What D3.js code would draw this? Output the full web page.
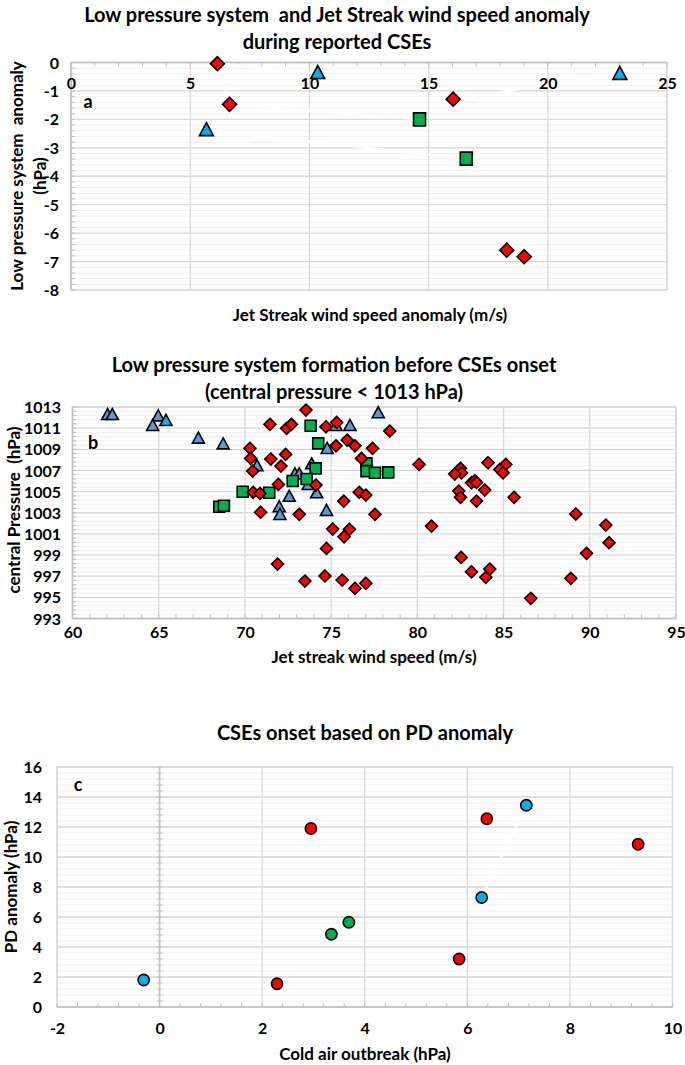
<!DOCTYPE html>
<html>
<head>
<meta charset="utf-8">
<style>
body{margin:0;background:#fff;}
svg text{font-family:Lato,"Open Sans",sans-serif;font-weight:bold;fill:#000;white-space:pre;}
</style>
</head>
<body>
<svg id="chart" width="685" height="1065"></svg>
<script src="https://cdn.jsdelivr.net/npm/d3@7"></script>
<script>
// ---- panel a : anomaly ----
var aTriangles = [[10.35,-0.38],[23.02,-0.41],[5.68,-2.39]];
var aDiamonds  = [[6.14,-0.04],[6.65,-1.47],[16.03,-1.29],[18.28,-6.6],[19.01,-6.83]];
var aSquares   = [[14.62,-2.0],[16.58,-3.38]];
// faint white connectors left over from the original series lines
var aLinks = [[6.14,-0.04,10.35,-0.38],[6.14,-0.04,6.65,-1.47],[16.03,-1.29,23.02,-0.41],
              [6.65,-1.47,14.62,-2.0],[5.68,-2.39,16.58,-3.38]];
var aXTicks = [0,5,10,15,20,25];
var aYTicks = [0,-1,-2,-3,-4,-5,-6,-7,-8];

// ---- panel b : central pressure ----
var bTriangles = [[62.04,1012.23],[62.31,1012.23],[64.97,1012.1],[64.65,1011.2],[67.3,1010.0],
  [68.74,1009.46],[70.7,1007.4],[72.9,1006.63],[73.15,1006.63],[73.87,1007.57],[73.67,1005.62],
  [74.16,1004.83],[72.57,1004.5],[71.99,1003.51],[72.03,1002.78],[74.73,1003.16],[74.77,1009.02],
  [75.28,1011.2],[76.09,1011.2],[77.73,1012.4]];
var bTrianglesCyan = [[65.42,1011.67]];
var bSquares = [[69.87,1004.98],[68.51,1003.57],[68.78,1003.66],[73.81,1011.23],[74.25,1009.56],
  [77.05,1007.67],[77.05,1006.94],[77.54,1006.78],[78.31,1006.82],[74.1,1007.2],[73.58,1006.19],
  [72.77,1006.0],[71.41,1004.89]];
var bDiamonds = [[73.54,1012.71],[71.45,1011.36],[72.42,1010.98],[72.7,1011.36],[74.7,1011.13],
  [75.32,1011.54],[78.4,1010.72],[75.28,1009.33],[75.93,1009.87],[76.38,1009.33],[77.4,1009.09],
  [76.76,1008.14],[80.1,1007.57],[70.29,1009.09],[70.33,1008.14],[71.5,1008.08],[72.36,1008.52],
  [72.09,1007.41],[70.45,1006.94],[71.94,1005.68],[74.12,1005.62],[70.48,1004.93],[70.87,1004.83],
  [76.63,1004.93],[77.01,1004.67],[75.73,1004.1],[70.91,1003.05],[73.15,1002.85],[77.54,1002.85],
  [80.82,1001.74],[75.09,1001.46],[76.06,1001.43],[75.75,1000.73],[74.73,999.63],[71.89,998.15],
  [73.48,996.54],[74.64,997.02],[75.64,996.64],[76.38,995.85],[77.01,996.33],
  [84.1,1007.73],[85.13,1007.57],[84.78,1007.1],[84.97,1006.78],[82.5,1007.2],[82.56,1006.78],
  [82.17,1006.66],[83.14,1005.84],[83.33,1006.03],[83.43,1005.87],[82.4,1005.05],[82.5,1004.46],
  [83.91,1005.15],[83.43,1004.1],[85.61,1004.46],[89.19,1002.88],[90.93,1001.84],[91.12,1000.17],
  [89.81,999.16],[82.54,998.78],[83.14,997.42],[84.2,997.68],[83.97,996.89],[88.9,996.8],[86.58,994.91]];
var bXTicks = [60,65,70,75,80,85,90,95];
var bYTicks = [993,995,997,999,1001,1003,1005,1007,1009,1011,1013];

// ---- panel c : PD anomaly ----
var cRed   = [[2.95,11.9],[6.38,12.55],[9.33,10.85],[2.29,1.55],[5.84,3.2]];
var cBlue  = [[-0.31,1.8],[6.28,7.3],[7.15,13.45]];
var cGreen = [[3.35,4.85],[3.69,5.65]];
var cLinks = [[6.28,7.3,7.15,13.45]];
var cXTicks = [-2,0,2,4,6,8,10];
var cYTicks = [0,2,4,6,8,10,12,14,16];

var RED = "#ff0000", GREEN = "#00b050", CYAN = "#00b0f0", STEEL = "#5b9bd5";
var TICK_FONT = 16, AXIS_FONT = 17, TITLE_FONT = 20;
var svg = d3.select("#chart");

function diamond(r){ return "M0," + (-r) + "L" + r + ",0L0," + r + "L" + (-r) + ",0Z"; }
function triangle(w, h){ return "M0," + (-h*0.6) + "L" + (w/2) + "," + (h*0.4) + "L" + (-w/2) + "," + (h*0.4) + "Z"; }
function square(w, h){ return "M" + (-w/2) + "," + (-h/2) + "h" + w + "v" + h + "h" + (-w) + "Z"; }

// gridlines, border, axis lines and minor ticks
function grid(g, x, y, o){
  var x0 = x.range()[0], x1 = x.range()[1], y0 = y.range()[0], y1 = y.range()[1];
  g.selectAll(".hminor").data(o.hMinor).enter().append("line")
    .attr("x1", x0).attr("x2", x1).attr("y1", function(d){ return y(d); }).attr("y2", function(d){ return y(d); })
    .attr("stroke", "#f0f0f0").attr("stroke-width", 1);
  g.selectAll(".hmajor").data(o.yTicks).enter().append("line")
    .attr("x1", x0).attr("x2", x1).attr("y1", function(d){ return y(d); }).attr("y2", function(d){ return y(d); })
    .attr("stroke", "#d9d9d9").attr("stroke-width", 1.3);
  g.selectAll(".vmajor").data(o.vGrid).enter().append("line")
    .attr("y1", y0).attr("y2", y1).attr("x1", function(d){ return x(d); }).attr("x2", function(d){ return x(d); })
    .attr("stroke", "#d9d9d9").attr("stroke-width", 1.3);
  g.append("rect").attr("x", x0).attr("y", y1).attr("width", x1 - x0).attr("height", y0 - y1)
    .attr("fill", "none").attr("stroke", "#d9d9d9").attr("stroke-width", 1.3);

  var ax = x(o.yAxisAt), ay = y(o.xAxisAt);
  g.append("line").attr("x1", ax).attr("x2", ax).attr("y1", y0).attr("y2", y1)
    .attr("stroke", "#bfbfbf").attr("stroke-width", 1.5);
  g.append("line").attr("x1", x0).attr("x2", x1).attr("y1", ay).attr("y2", ay)
    .attr("stroke", "#bfbfbf").attr("stroke-width", 1.5);
  g.selectAll(".ytk").data(o.yMinorTicks).enter().append("line")
    .attr("x1", ax + o.yTickA).attr("x2", ax + o.yTickB)
    .attr("y1", function(d){ return y(d); }).attr("y2", function(d){ return y(d); })
    .attr("stroke", "#bfbfbf").attr("stroke-width", 1);
  g.selectAll(".xtk").data(o.xMinorTicks).enter().append("line")
    .attr("y1", ay + o.xTickA).attr("y2", ay + o.xTickB)
    .attr("x1", function(d){ return x(d); }).attr("x2", function(d){ return x(d); })
    .attr("stroke", "#bfbfbf").attr("stroke-width", 1);
}

// tick labels through the d3 axes (plain hyphen minus, no thousands comma)
function tickLabels(g, x, y, o){
  var fmt = function(d){ return String(d); };
  var xa = g.append("g").attr("transform", "translate(0," + o.xLabelAt + ")")
    .call(d3.axisBottom(x).tickValues(o.xTicks).tickFormat(fmt).tickSize(0).tickPadding(0));
  var ya = g.append("g").attr("transform", "translate(" + o.yLabelAt + ",0)")
    .call(d3.axisLeft(y).tickValues(o.yTicks).tickFormat(fmt).tickSize(0).tickPadding(0));
  [xa, ya].forEach(function(a){
    a.select(".domain").remove();
    a.selectAll("text").style("font-family", "Lato, sans-serif").style("font-weight", "bold")
      .style("font-size", TICK_FONT + "px").attr("fill", "#000");
  });
  xa.selectAll("text").attr("y", 0).attr("dy", "0.35em");
  ya.selectAll("text").attr("x", 0).attr("dy", "0.35em");
}

function marks(g, x, y, data, path, fill){
  g.selectAll(null).data(data).enter().append("path")
    .attr("d", path)
    .attr("transform", function(d){ return "translate(" + x(d[0]) + "," + y(d[1]) + ")"; })
    .attr("fill", fill).attr("stroke", "#000").attr("stroke-width", 1.6).attr("stroke-linejoin", "miter");
}

function links(g, x, y, data){
  g.selectAll(null).data(data).enter().append("line")
    .attr("x1", function(d){ return x(d[0]); }).attr("y1", function(d){ return y(d[1]); })
    .attr("x2", function(d){ return x(d[2]); }).attr("y2", function(d){ return y(d[3]); })
    .attr("stroke", "#fff").attr("stroke-width", 2.2);
}

function label(txt, x, y, size, rot){
  var t = svg.append("text").attr("text-anchor", "middle").attr("dy", "0.35em")
    .style("font-size", size + "px").text(txt);
  if (rot) t.attr("transform", "translate(" + x + "," + y + ")rotate(-90)");
  else t.attr("x", x).attr("y", y);
}

// ---------- panel a ----------
var ax = d3.scaleLinear().domain([0, 25]).range([71, 667]);
var ay = d3.scaleLinear().domain([-8, 0]).range([290, 62.5]);
var ga = svg.append("g");
var aOpt = {
  xTicks: aXTicks, yTicks: aYTicks, vGrid: aXTicks,
  hMinor: d3.range(-8, 0.01, 0.2),
  yAxisAt: 0, xAxisAt: 0,
  yMinorTicks: d3.range(-8, 0.01, 0.2), yTickA: 0, yTickB: 4,
  xMinorTicks: d3.range(0, 25.01, 1), xTickA: 0, xTickB: 4,
  xLabelAt: 83, yLabelAt: 59
};
grid(ga, ax, ay, aOpt);
links(ga, ax, ay, aLinks);
tickLabels(ga, ax, ay, aOpt);
marks(ga, ax, ay, aTriangles, triangle(14, 13), CYAN);
marks(ga, ax, ay, aSquares, square(12, 13), GREEN);
marks(ga, ax, ay, aDiamonds, diamond(7), RED);
label("a", 88, 102, 18);
label("Low pressure system  and Jet Streak wind speed anomaly", 337, 15, TITLE_FONT);
label("during reported CSEs", 337, 42, TITLE_FONT);
label("Low pressure system  anomaly", 17, 176, AXIS_FONT, true);
label("(hPa)", 40, 176, AXIS_FONT, true);
label("Jet Streak wind speed anomaly (m/s)", 370, 315, AXIS_FONT);

// ---------- panel b ----------
var bx = d3.scaleLinear().domain([60, 95]).range([72.5, 676]);
var by = d3.scaleLinear().domain([993, 1013]).range([618.5, 407]);
var gb = svg.append("g");
var bOpt = {
  xTicks: bXTicks, yTicks: bYTicks, vGrid: bXTicks,
  hMinor: d3.range(993, 1013.01, 0.4),
  yAxisAt: 60, xAxisAt: 993,
  yMinorTicks: d3.range(993, 1013.01, 0.4), yTickA: 0, yTickB: 4,
  xMinorTicks: d3.range(60, 95.01, 1), xTickA: 0, xTickB: -4,
  xLabelAt: 632, yLabelAt: 61
};
grid(gb, bx, by, bOpt);
tickLabels(gb, bx, by, bOpt);
marks(gb, bx, by, bTriangles, triangle(12, 11), STEEL);
marks(gb, bx, by, bTrianglesCyan, triangle(12, 11), CYAN);
marks(gb, bx, by, bSquares, square(11, 11), GREEN);
marks(gb, bx, by, bDiamonds, diamond(6), RED);
label("b", 93, 443, 18);
label("Low pressure system formation before CSEs onset", 334, 365, TITLE_FONT);
label("(central pressure < 1013 hPa)", 334, 392, TITLE_FONT);
label("central Pressure  (hPa)", 14, 510, AXIS_FONT, true);
label("Jet streak wind speed (m/s)", 374, 657, AXIS_FONT);

// ---------- panel c ----------
var cx = d3.scaleLinear().domain([-2, 10]).range([57, 672.5]);
var cy = d3.scaleLinear().domain([0, 16]).range([1007, 767]);
var gc = svg.append("g");
var cOpt = {
  xTicks: cXTicks, yTicks: cYTicks, vGrid: cXTicks,
  hMinor: d3.range(0, 16.01, 0.4),
  yAxisAt: 0, xAxisAt: 0,
  yMinorTicks: d3.range(0, 16.01, 0.4), yTickA: -3, yTickB: 3,
  xMinorTicks: d3.range(-2, 10.01, 0.4), xTickA: 0, xTickB: -4,
  xLabelAt: 1028, yLabelAt: 42
};
grid(gc, cx, cy, cOpt);
links(gc, cx, cy, cLinks);
tickLabels(gc, cx, cy, cOpt);
var circ = d3.symbol().type(d3.symbolCircle).size(Math.PI * 5.6 * 5.6);
marks(gc, cx, cy, cRed, circ, RED);
marks(gc, cx, cy, cBlue, circ, CYAN);
marks(gc, cx, cy, cGreen, circ, GREEN);
label("c", 78, 785, 18);
label("CSEs onset based on PD anomaly", 365, 733, TITLE_FONT);
label("PD anomaly (hPa)", 11, 887, AXIS_FONT, true);
label("Cold air outbreak (hPa)", 365, 1054, AXIS_FONT);
</script>
</body>
</html>
